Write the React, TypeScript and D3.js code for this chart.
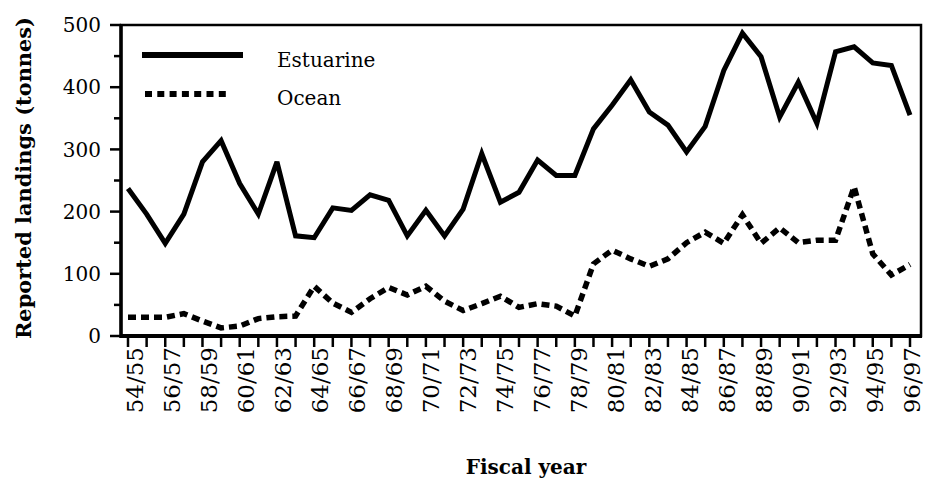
import React from "react";
import * as d3 from "d3";

const fiscalYears = [
  "54/55", "55/56", "56/57", "57/58", "58/59", "59/60", "60/61", "61/62", "62/63", "63/64",
  "64/65", "65/66", "66/67", "67/68", "68/69", "69/70", "70/71", "71/72", "72/73", "73/74",
  "74/75", "75/76", "76/77", "77/78", "78/79", "79/80", "80/81", "81/82", "82/83", "83/84",
  "84/85", "85/86", "86/87", "87/88", "88/89", "89/90", "90/91", "91/92", "92/93", "93/94",
  "94/95", "95/96", "96/97",
];

const estuarine = [
  237, 196, 149, 196, 280, 314, 245, 196, 280, 161,
  158, 206, 202, 227, 218, 161, 202, 161, 204, 293,
  215, 231, 283, 258, 258, 333, 371, 412, 360, 339,
  296, 337, 427, 487, 449, 352, 408, 342, 457, 465,
  439, 435, 355,
];

const ocean = [
  30, 30, 30, 36, 24, 13, 16, 28, 31, 32,
  80, 53, 38, 60, 78, 66, 80, 56, 41, 52,
  64, 46, 52, 48, 32, 116, 138, 124, 112, 124,
  150, 167, 149, 195, 149, 174, 150, 154, 154, 240,
  132, 98, 115,
];

const yMajorTicks = [0, 100, 200, 300, 400, 500];
const yMinorTicks = [50, 150, 250, 350, 450];

const seriesNames = ["Estuarine", "Ocean"];

const W = 927;
const H = 487;
const FONT = "'DejaVu Serif', serif";

export default function App() {
  const frame = { left: 121, right: 921, top: 25, bottom: 336 };
  const n = fiscalYears.length;
  const x = d3.scaleLinear().domain([0, n - 1]).range([128, 910]);
  const xLabel = d3.scaleLinear().domain([0, n - 1]).range([135, 912]);
  const y = d3.scaleLinear().domain([0, 500]).range([frame.bottom, frame.top]);

  const line = d3
    .line<number>()
    .x((_, i) => x(i))
    .y((d) => y(d))
    .curve(d3.curveLinear);

  return (
    <svg
      width={W}
      height={H}
      viewBox={`0 0 ${W} ${H}`}
      style={{ position: "absolute", left: 0, top: 0, background: "#fff" }}
    >
      <rect x={0} y={0} width={W} height={H} fill="#fff" />

      {/* data lines */}
      <path
        d={line(estuarine) || ""}
        fill="none"
        stroke="#000"
        strokeWidth={5}
        strokeLinejoin="miter"
        strokeMiterlimit={3}
      />
      <path
        d={line(ocean) || ""}
        fill="none"
        stroke="#000"
        strokeWidth={5.5}
        strokeDasharray="8,5"
        strokeLinejoin="miter"
      />

      {/* frame */}
      <rect
        x={frame.left}
        y={frame.top}
        width={frame.right - frame.left}
        height={frame.bottom - frame.top}
        fill="none"
        stroke="#000"
        strokeWidth={2.5}
      />
      <line x1={frame.left} x2={frame.left} y1={frame.top - 1} y2={frame.bottom + 2} stroke="#000" strokeWidth={3.5} />
      <line x1={frame.left - 1} x2={frame.right + 1} y1={frame.bottom} y2={frame.bottom} stroke="#000" strokeWidth={4} />

      {/* y ticks */}
      {yMajorTicks.map((t) => (
        <g key={"ym" + t}>
          <line x1={110} x2={frame.left} y1={y(t)} y2={y(t)} stroke="#000" strokeWidth={2.5} />
          <text
            x={101}
            y={y(t)}
            dy="0.36em"
            textAnchor="end"
            fontFamily={FONT}
            fontSize={20}
            fill="#000"
          >
            {t}
          </text>
        </g>
      ))}
      {yMinorTicks.map((t) => (
        <line key={"yn" + t} x1={114} x2={frame.left} y1={y(t)} y2={y(t)} stroke="#000" strokeWidth={2.5} />
      ))}

      {/* x ticks */}
      {fiscalYears.map((fy, i) => (
        <line key={"xt" + fy} x1={x(i)} x2={x(i)} y1={frame.bottom} y2={frame.bottom + 11} stroke="#000" strokeWidth={2.5} />
      ))}
      {fiscalYears.map((fy, i) =>
        i % 2 === 0 ? (
          <text
            key={"xl" + fy}
            transform={`translate(${xLabel(i)},${frame.bottom + 11}) rotate(-90)`}
            dy="0.36em"
            textAnchor="end"
            fontFamily={FONT}
            fontSize={23}
            fill="#000"
          >
            {fy}
          </text>
        ) : null
      )}

      {/* axis titles */}
      <text
        transform={`translate(23,178) rotate(-90)`}
        dy="0.36em"
        textAnchor="middle"
        fontFamily={FONT}
        fontWeight="bold"
        fontSize={21}
        textLength={322}
        lengthAdjust="spacingAndGlyphs"
        fill="#000"
      >
        Reported landings (tonnes)
      </text>
      <text
        x={526}
        y={474}
        textAnchor="middle"
        fontFamily={FONT}
        fontWeight="bold"
        fontSize={20}
        fill="#000"
      >
        Fiscal year
      </text>

      {/* legend */}
      <line x1={142} x2={243} y1={55} y2={55} stroke="#000" strokeWidth={6} />
      <text x={277} y={67} fontFamily={FONT} fontSize={20} fill="#000">
        {seriesNames[0]}
      </text>
      <line x1={145} x2={231} y1={94} y2={94} stroke="#000" strokeWidth={6} strokeDasharray="7,5.3" />
      <text x={277} y={105} fontFamily={FONT} fontSize={20} fill="#000">
        {seriesNames[1]}
      </text>
    </svg>
  );
}
